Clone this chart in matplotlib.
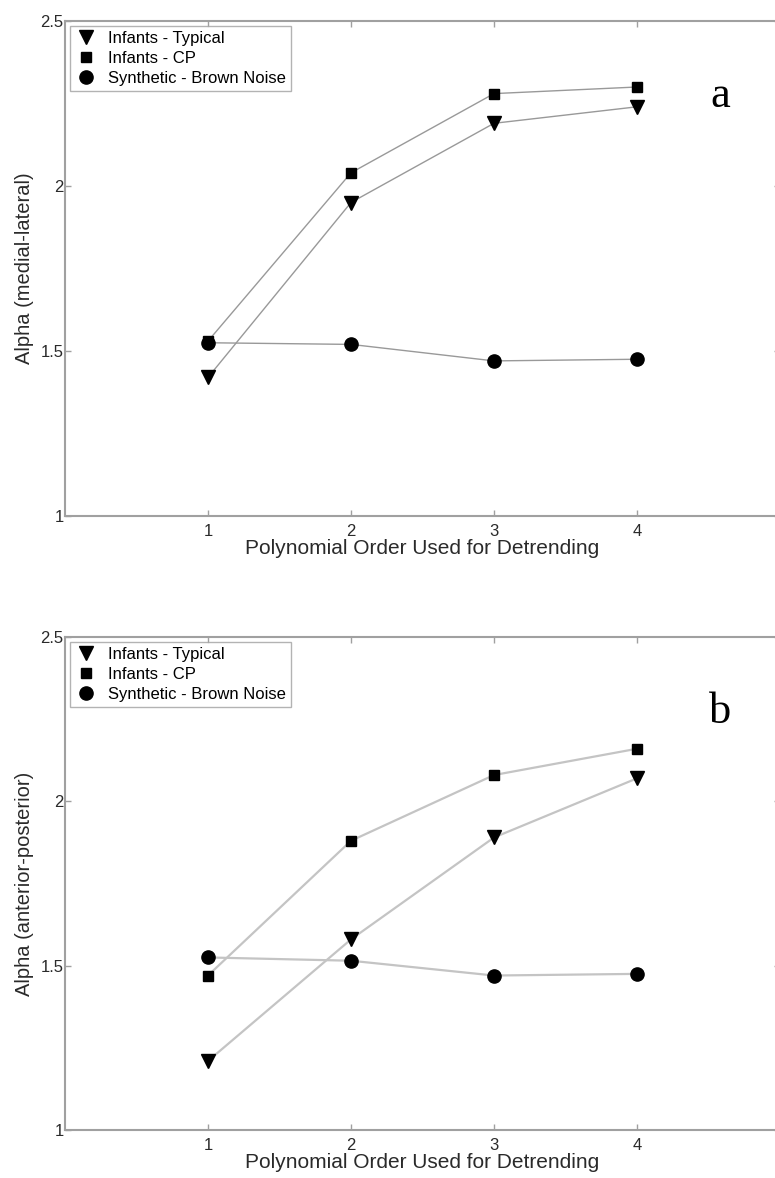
import matplotlib
matplotlib.use("Agg")
import matplotlib.pyplot as plt

# Polynomial order used for detrending
orders = [1, 2, 3, 4]

# Panel a: medial-lateral
typical_a = [1.42, 1.95, 2.19, 2.24]
cp_a = [1.53, 2.04, 2.28, 2.30]
brown_a = [1.525, 1.52, 1.47, 1.475]

# Panel b: anterior-posterior
typical_b = [1.21, 1.58, 1.89, 2.07]
cp_b = [1.47, 1.88, 2.08, 2.16]
brown_b = [1.525, 1.515, 1.47, 1.475]

series_names = ["Infants - Typical", "Infants - CP", "Synthetic - Brown Noise"]
ylabels = ["Alpha (medial-lateral)", "Alpha (anterior-posterior)"]
panel_letters = ["a", "b"]

plt.rcParams["font.family"] = ["Liberation Sans", "DejaVu Sans"]

fig = plt.figure(figsize=(7.75, 11.78), dpi=100)
W, H = 775, 1178
spine_col = "#a0a0a0"
text_col = "#2a2a2a"


def make_panel(top_px, bottom_px, typ, cp, brown, ylab, letter, line_col, line_w):
    left_px, right_px = 65, 780
    ax = fig.add_axes([left_px / W, 1 - bottom_px / H,
                       (right_px - left_px) / W, (bottom_px - top_px) / H])
    ax.plot(orders, typ, color=line_col, lw=line_w, marker="v", ms=10,
            mfc="black", mec="black", label=series_names[0])
    ax.plot(orders, cp, color=line_col, lw=line_w, marker="s", ms=7,
            mfc="black", mec="black", label=series_names[1])
    ax.plot(orders, brown, color=line_col, lw=line_w, marker="o", ms=9.5,
            mfc="black", mec="black", label=series_names[2])
    ax.set_xlim(0, 5)
    ax.set_ylim(1, 2.5)
    ax.set_xticks(orders)
    ax.set_yticks([1, 1.5, 2, 2.5])
    ax.set_yticklabels(["1", "1.5", "2", "2.5"])
    for s in ax.spines.values():
        s.set_color(spine_col)
        s.set_linewidth(1.5)
    ax.tick_params(direction="in", length=4, width=1, color=spine_col,
                   labelcolor=text_col, labelsize=12, top=True, right=True)
    ax.tick_params(axis="y", pad=1)
    ax.tick_params(axis="x", pad=6)
    ax.set_xlabel("Polynomial Order Used for Detrending", fontsize=15,
                  color=text_col, labelpad=0)
    ax.set_ylabel(ylab, fontsize=14.5, color=text_col, labelpad=5)
    leg = ax.legend(loc="upper left", bbox_to_anchor=(0.007, 0.99),
                    borderaxespad=0, fontsize=12, frameon=True, fancybox=False,
                    handlelength=1.3, handletextpad=0.7, labelspacing=0.3,
                    borderpad=0.3)
    for h in leg.get_lines():
        h.set_linestyle("none")
    leg.get_frame().set_edgecolor(spine_col)
    leg.get_frame().set_linewidth(1)
    ax.text(0.916, 0.848, letter, transform=ax.transAxes, fontsize=32,
            family="Liberation Serif", ha="center", va="center", color="black")
    return ax


make_panel(21, 516, typical_a, cp_a, brown_a, ylabels[0], panel_letters[0], "#999999", 1.0)
make_panel(637, 1130, typical_b, cp_b, brown_b, ylabels[1], panel_letters[1], "#c4c4c4", 1.6)

fig.savefig("out.png", dpi=100)
